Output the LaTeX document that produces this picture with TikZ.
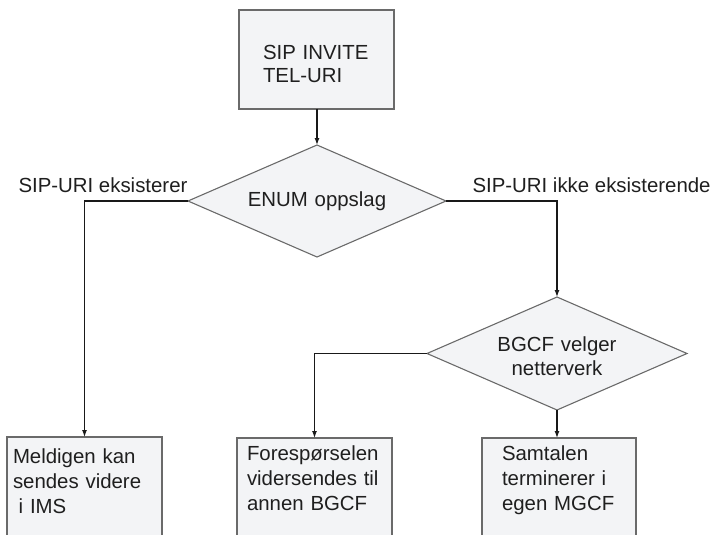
\documentclass[tikz,border=0pt]{standalone}
\usepackage{fontspec}
\setmainfont{Liberation Sans}
\usetikzlibrary{arrows.meta,shapes.geometric}
\definecolor{boxfill}{HTML}{F3F4F6}
\definecolor{boxline}{HTML}{6A6A6A}
\begin{document}
\begin{tikzpicture}[x=1pt,y=-1pt,>={Latex[length=7pt,width=5pt]},
  every node/.style={font=\fontsize{20.4}{25}\selectfont,text=black!88},
  box/.style={rectangle,draw=boxline,fill=boxfill,line width=1.1pt,inner ysep=0pt,outer sep=0pt,align=left,anchor=north west},
  test/.style={diamond,draw=boxline,fill=boxfill,line width=1.1pt,aspect=2.3,inner sep=0pt,outer sep=0pt,align=center},
  flow/.style={line width=1.2pt,black!90}]
\useasboundingbox (0,0) rectangle (713,535);
\clip (0,0) rectangle (713,535);
\node[box,inner xsep=24pt,text width=107pt,text height=50pt,text depth=49pt,font=\fontsize{20.4}{23}\selectfont] (invite) at (239,10) {SIP INVITE\\TEL-URI};
\node[test,text width=140pt,minimum width=258pt,minimum height=112pt] (enum) at (317,201) {ENUM oppslag};
\node[test,text width=130pt,text height=20pt,text depth=24pt,minimum width=260pt,minimum height=113pt,font=\fontsize{20.4}{24}\selectfont] (bgcf) at (557,353.5) {BGCF velger\\netterverk};
\node[box,inner xsep=6pt,text width=143pt,text height=26pt,text depth=94pt] (meld) at (7,437) {Meldigen kan\\sendes videre\\\hspace*{0.28em}i IMS};
\node[box,inner xsep=10pt,text width=135pt,text height=22pt,text depth=97pt] (fwd) at (237,438) {Forespørselen\\vidersendes til\\annen BGCF};
\node[box,inner xsep=20pt,text width=114pt,text height=22pt,text depth=97pt] (term) at (482,438) {Samtalen\\terminerer i\\egen MGCF};
\node[anchor=base west] (yes) at (15,192) {SIP-URI eksisterer};
\node[anchor=base west] (no) at (469,192) {SIP-URI ikke eksisterende};
\draw[flow,->] (enum.north |- invite.south) -- (enum.north);
\draw[flow,->] (enum.west) -| (meld.north);
\draw[flow,->] (enum.east) -| (bgcf.north);
\draw[flow,->] (bgcf.west) -| (fwd.north);
\draw[flow,->] (bgcf.south) -- (bgcf.south |- term.north);
\end{tikzpicture}
\end{document}
